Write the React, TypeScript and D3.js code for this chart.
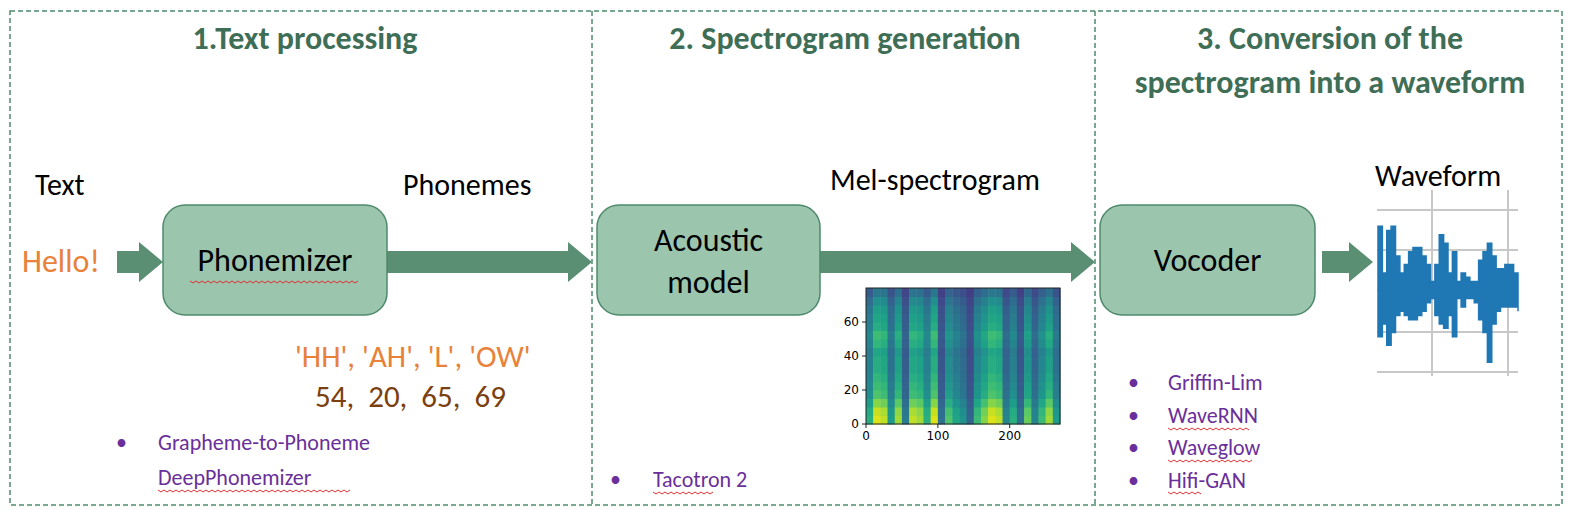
import React from "react";
import * as d3 from "d3";

const titles = [
  { lines: ["1.Text processing"], cx: 305 },
  { lines: ["2. Spectrogram generation"], cx: 845 },
  { lines: ["3. Conversion of the", "spectrogram into a waveform"], cx: 1330 },
];
const phonemeText = "'HH', 'AH', 'L', 'OW'";
const phonemeIds = "54,  20,  65,  69";
const bullets1 = ["Grapheme-to-Phoneme", "DeepPhonemizer"];
const bullets2 = ["Tacotron 2"];
const bullets3 = ["Griffin-Lim", "WaveRNN", "Waveglow", "Hifi-GAN"];

// spectrogram: per-column energy (27 columns, 10 frames each) and per-row profile (16 rows, 5 bins each)
const specColEnergy = [0.6, 0.95, 0.9, 0.5, 0.85, 0.35, 0.9, 0.85, 0.6, 0.95, 0.3, 0.7, 0.55, 0.45, 0.25, 0.65, 0.8, 0.95, 0.9, 0.4, 0.6, 0.3, 0.75, 0.4, 0.65, 0.85, 0.5];
const specRowProfile = [1.0, 0.95, 0.8, 0.65, 0.6, 0.55, 0.5, 0.5, 0.45, 0.55, 0.6, 0.5, 0.45, 0.4, 0.3, 0.15];
const specXTicks = [0, 100, 200];
const specYTicks = [0, 20, 40, 60];

// waveform envelope (upper, lower) in amplitude units
const waveTop = [0.75, 0.2, 0.7, 0.75, 0.4, 0.2, 0.3, 0.45, 0.5, 0.5, 0.4, 0.3, 0.1, 0.3, 0.65, 0.55, 0.2, 0.45, 0.1, 0.2, 0.15, 0.1, 0.1, 0.35, 0.45, 0.55, 0.4, 0.25, 0.25, 0.3, 0.3, 0.2, 0.2];
const waveBot = [-0.55, -0.4, -0.65, -0.5, -0.3, -0.25, -0.3, -0.35, -0.35, -0.3, -0.25, -0.15, -0.1, -0.3, -0.4, -0.45, -0.3, -0.55, -0.1, -0.2, -0.1, -0.1, -0.15, -0.35, -0.5, -0.85, -0.4, -0.25, -0.2, -0.2, -0.2, -0.2, -0.25];

const GREEN = "#3f6e57";
const BOXF = "#9cc5ae";
const BOXS = "#4f8a6c";
const ARROW = "#5a8f74";
const PURPLE = "#6a2f9a";
const FONT = "Calibri, Carlito, 'Open Sans', sans-serif";

function Arrow({ x1, x2, y }: { x1: number; x2: number; y: number }) {
  const h = 11, hw = 20, hl = 24;
  const p = d3.path();
  p.moveTo(x1, y - h); p.lineTo(x2 - hl, y - h); p.lineTo(x2 - hl, y - hw); p.lineTo(x2, y);
  p.lineTo(x2 - hl, y + hw); p.lineTo(x2 - hl, y + h); p.lineTo(x1, y + h); p.closePath();
  return <path d={p.toString()} fill={ARROW} />;
}

function Squiggle({ x, y, w }: { x: number; y: number; w: number }) {
  const pts: [number, number][] = d3.range(0, w, 3).map((d, i) => [x + d, y + (i % 2 ? 2 : 0)]);
  return <path d={d3.line()(pts) || ""} stroke="#e03030" strokeWidth={1} fill="none" />;
}

function Box({ x, y, w, h, lines }: { x: number; y: number; w: number; h: number; lines: string[] }) {
  return (
    <g>
      <rect x={x} y={y} width={w} height={h} rx={22} fill={BOXF} stroke={BOXS} strokeWidth={1.5} />
      {lines.map((l, i) => (
        <text key={i} x={x + w / 2} y={y + h / 2 + 11 - (lines.length - 1) * 20 + i * 42} textAnchor="middle" fontSize={32}>{l}</text>
      ))}
    </g>
  );
}

function Spectrogram() {
  const x = d3.scaleLinear().domain([0, 270]).range([866, 1060]);
  const y = d3.scaleLinear().domain([0, 80]).range([424, 288]);
  const color = d3.interpolateViridis;
  const cells: JSX.Element[] = [];
  specColEnergy.forEach((ce, ci) => {
    specRowProfile.forEach((rp, ri) => {
      const v = Math.min(1, ce * (0.25 + 0.8 * rp));
      cells.push(
        <rect key={ci + "-" + ri} x={x(ci * 10)} y={y(ri * 5 + 5)} width={x(10) - x(0) + 0.5} height={y(0) - y(5) + 0.5} fill={color(0.1 + v * 0.85)} />
      );
    });
  });
  return (
    <g fontFamily="DejaVu Sans, sans-serif" fontSize={12}>
      {cells}
      <rect x={866} y={288} width={194} height={136} fill="none" stroke="#222" />
      {specYTicks.map(t => (
        <g key={t}><line x1={862} x2={866} y1={y(t)} y2={y(t)} stroke="#222" /><text x={859} y={y(t) + 4} textAnchor="end">{t}</text></g>
      ))}
      {specXTicks.map(t => (
        <g key={t}><line x1={x(t)} x2={x(t)} y1={424} y2={428} stroke="#222" /><text x={x(t)} y={440} textAnchor="middle">{t}</text></g>
      ))}
    </g>
  );
}

function Waveform() {
  const x = d3.scaleLinear().domain([0, waveTop.length - 1]).range([1378, 1518]);
  const y = d3.scaleLinear().domain([-1, 1]).range([375, 205]);
  const area = d3.area<number>().x((_, i) => x(i)).y0((_, i) => y(waveBot[i])).y1(d => y(d)).curve(d3.curveStepAfter);
  return (
    <g>
      {[210, 250, 290, 332, 372].map(g => <line key={g} x1={1377} x2={1518} y1={g} y2={g} stroke="#c8c8c8" strokeWidth={2} />)}
      {[1432, 1508].map(g => <line key={g} x1={g} x2={g} y1={190} y2={376} stroke="#c8c8c8" strokeWidth={2} />)}
      <path d={area(waveTop) || ""} fill="#1f77b4" stroke="#1f77b4" strokeWidth={1.5} />
    </g>
  );
}

export default function App() {
  return (
    <svg width={1587} height={522} style={{ position: "absolute", left: 0, top: 0, display: "block" }} fontFamily={FONT}>
      <rect x={0} y={0} width={1587} height={522} fill="#fff" />
      <rect x={10} y={11} width={1552} height={494} fill="none" stroke={BOXS} strokeWidth={1.5} strokeDasharray="5,3" />
      {[592, 1095].map(v => <line key={v} x1={v} x2={v} y1={11} y2={505} stroke={BOXS} strokeWidth={1.5} strokeDasharray="5,3" />)}
      {titles.map((t, i) => t.lines.map((l, j) => (
        <text key={i + "-" + j} x={t.cx} y={49 + j * 44} textAnchor="middle" fontSize={32} fontWeight="bold" fill={GREEN}>{l}</text>
      )))}
      <text x={35} y={195} fontSize={30}>Text</text>
      <text x={403} y={195} fontSize={30}>Phonemes</text>
      <text x={830} y={190} fontSize={30}>Mel-spectrogram</text>
      <text x={1375} y={186} fontSize={30}>Waveform</text>
      <text x={22} y={272} fontSize={32} fill="#e8823a">Hello!</text>
      <Arrow x1={117} x2={163} y={262} />
      <Arrow x1={387} x2={592} y={262} />
      <Arrow x1={820} x2={1095} y={262} />
      <Arrow x1={1322} x2={1373} y={262} />
      <Box x={163} y={205} w={224} h={110} lines={["Phonemizer"]} />
      <Squiggle x={190} y={281} w={170} />
      <Box x={597} y={205} w={223} h={110} lines={["Acoustic", "model"]} />
      <Box x={1100} y={205} w={215} h={110} lines={["Vocoder"]} />
      <text x={295} y={367} fontSize={31} fill="#e8823a">{phonemeText}</text>
      <text x={315} y={407} fontSize={31} fill="#7b3f10" style={{ whiteSpace: "pre" }}>{phonemeIds}</text>
      <g fill={PURPLE} fontSize={22}>
        {bullets1.map((b, i) => (
          <g key={b}><text x={158} y={450 + i * 35}>{b}</text>{i === 0 && <text x={116} y={450}>•</text>}</g>
        ))}
        <Squiggle x={158} y={490} w={195} />
        {bullets2.map(b => <g key={b}><text x={610} y={487}>•</text><text x={653} y={487}>{b}</text></g>)}
        <Squiggle x={653} y={492} w={62} />
        {bullets3.map((b, i) => (
          <g key={b}><text x={1128} y={390 + i * 32.5}>•</text><text x={1168} y={390 + i * 32.5}>{b}</text></g>
        ))}
        <Squiggle x={1168} y={428} w={84} />
        <Squiggle x={1168} y={460} w={86} />
        <Squiggle x={1168} y={492} w={36} />
      </g>
      <Spectrogram />
      <Waveform />
    </svg>
  );
}
